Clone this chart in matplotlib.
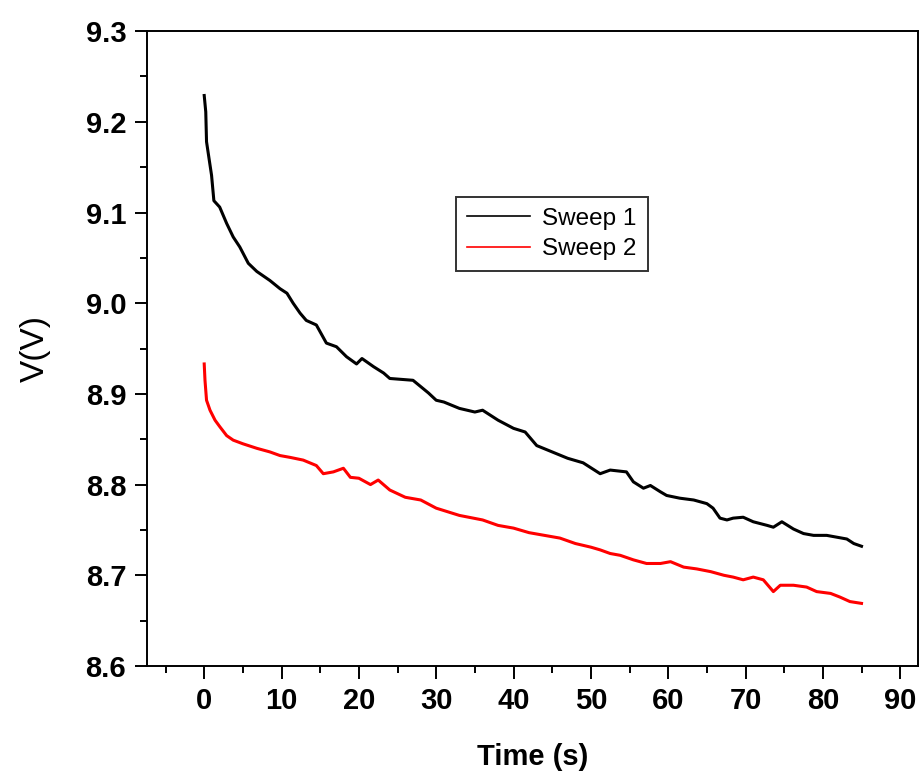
import matplotlib
matplotlib.use("Agg")
import matplotlib.pyplot as plt
from matplotlib.ticker import MultipleLocator

t_1 = [0, 0.2, 0.3, 0.65, 0.95, 1.25, 2.0, 2.9, 3.75, 4.6, 5.7, 6.8, 8.5, 9.8, 10.7,
       11.5, 12.4, 13.2, 14.5, 15.8, 17.1, 18.4, 19.7, 20.4, 21.9, 23.2, 24, 27, 29,
       30, 31, 33, 35, 36, 38, 40, 41.5, 43, 45, 47, 49, 51.2, 52.5, 54.6, 55.5, 56.8,
       57.7, 59, 59.8, 61.5, 63.3, 65, 65.8, 66.7, 67.6, 68.4, 69.7, 71, 72.8, 73.6,
       74.7, 76.2, 77.5, 78.8, 80.5, 81.8, 83.1, 84, 85]
v_1 = [9.229, 9.211, 9.178, 9.158, 9.141, 9.113, 9.106, 9.088, 9.073, 9.062, 9.044,
       9.035, 9.025, 9.016, 9.011, 9.000, 8.989, 8.981, 8.976, 8.956, 8.952, 8.941,
       8.933, 8.939, 8.930, 8.923, 8.917, 8.915, 8.901, 8.893, 8.891, 8.884, 8.880,
       8.882, 8.871, 8.862, 8.858, 8.843, 8.836, 8.829, 8.824, 8.812, 8.816, 8.814,
       8.803, 8.796, 8.799, 8.792, 8.788, 8.785, 8.783, 8.779, 8.774, 8.763, 8.761,
       8.763, 8.764, 8.759, 8.755, 8.753, 8.759, 8.751, 8.746, 8.744, 8.744, 8.742,
       8.740, 8.735, 8.732]

t_2 = [0, 0.1, 0.3, 0.75, 1.4, 2.0, 2.9, 3.75, 5.0, 6.8, 8.5, 9.8, 11.1, 12.8, 14.5,
       15.4, 16.7, 18, 18.9, 20, 21.5, 22.5, 24, 26, 28, 30, 33, 36, 38, 40, 42, 44,
       46, 48, 50, 51.2, 52.5, 53.8, 55.5, 57.2, 59, 60.3, 62, 63.7, 65.5, 67.2, 68.4,
       69.7, 71, 72.3, 73.6, 74.5, 76.2, 77.9, 79.2, 81, 82.2, 83.5, 85]
v_2 = [8.933, 8.915, 8.893, 8.882, 8.871, 8.864, 8.854, 8.849, 8.845, 8.840, 8.836,
       8.832, 8.830, 8.827, 8.821, 8.812, 8.814, 8.818, 8.808, 8.807, 8.800, 8.805,
       8.794, 8.786, 8.783, 8.774, 8.766, 8.761, 8.755, 8.752, 8.747, 8.744, 8.741,
       8.735, 8.731, 8.728, 8.724, 8.722, 8.717, 8.713, 8.713, 8.715, 8.709, 8.707,
       8.704, 8.700, 8.698, 8.695, 8.698, 8.695, 8.682, 8.689, 8.689, 8.687, 8.682,
       8.680, 8.676, 8.671, 8.669]

labels = ["Sweep 1", "Sweep 2"]

plt.rcParams['font.family'] = ['Liberation Sans', 'DejaVu Sans']

fig = plt.figure(figsize=(9.21, 7.78), dpi=100)
ax = fig.add_axes([0.1596, 0.144, 0.8371, 0.816])

ax.plot(t_1, v_1, color='black', lw=2.2, label=labels[0])
ax.plot(t_2, v_2, color='red', lw=2.2, label=labels[1])

ax.set_xlim(-7.4, 92.3)
ax.set_ylim(8.6, 9.3)
ax.xaxis.set_major_locator(MultipleLocator(10))
ax.xaxis.set_minor_locator(MultipleLocator(5))
ax.yaxis.set_major_locator(MultipleLocator(0.1))
ax.yaxis.set_minor_locator(MultipleLocator(0.05))
ax.set_yticks([8.6, 8.7, 8.8, 8.9, 9.0, 9.1, 9.2, 9.3])

for s in ax.spines.values():
    s.set_linewidth(1.4)

ax.tick_params(which='major', direction='out', length=9, width=1.4, pad=6,
               labelsize=21)
ax.tick_params(which='minor', direction='out', length=5, width=1.4)
for lab in ax.get_xticklabels() + ax.get_yticklabels():
    lab.set_fontweight('bold')

ax.set_xlabel('Time (s)', fontsize=21, fontweight='bold', labelpad=20)
ax.set_ylabel('V(V)', fontsize=24, labelpad=25)

leg = ax.legend(loc='upper left', bbox_to_anchor=(0.401, 0.739), fontsize=17.5,
                frameon=True, fancybox=False, handlelength=2.6, borderpad=0.45,
                labelspacing=0.35, handletextpad=0.5, borderaxespad=0)
leg.get_frame().set_edgecolor('black')
leg.get_frame().set_linewidth(1.4)
for line in leg.get_lines():
    line.set_linewidth(1.2)

fig.savefig('out.png', dpi=100)
